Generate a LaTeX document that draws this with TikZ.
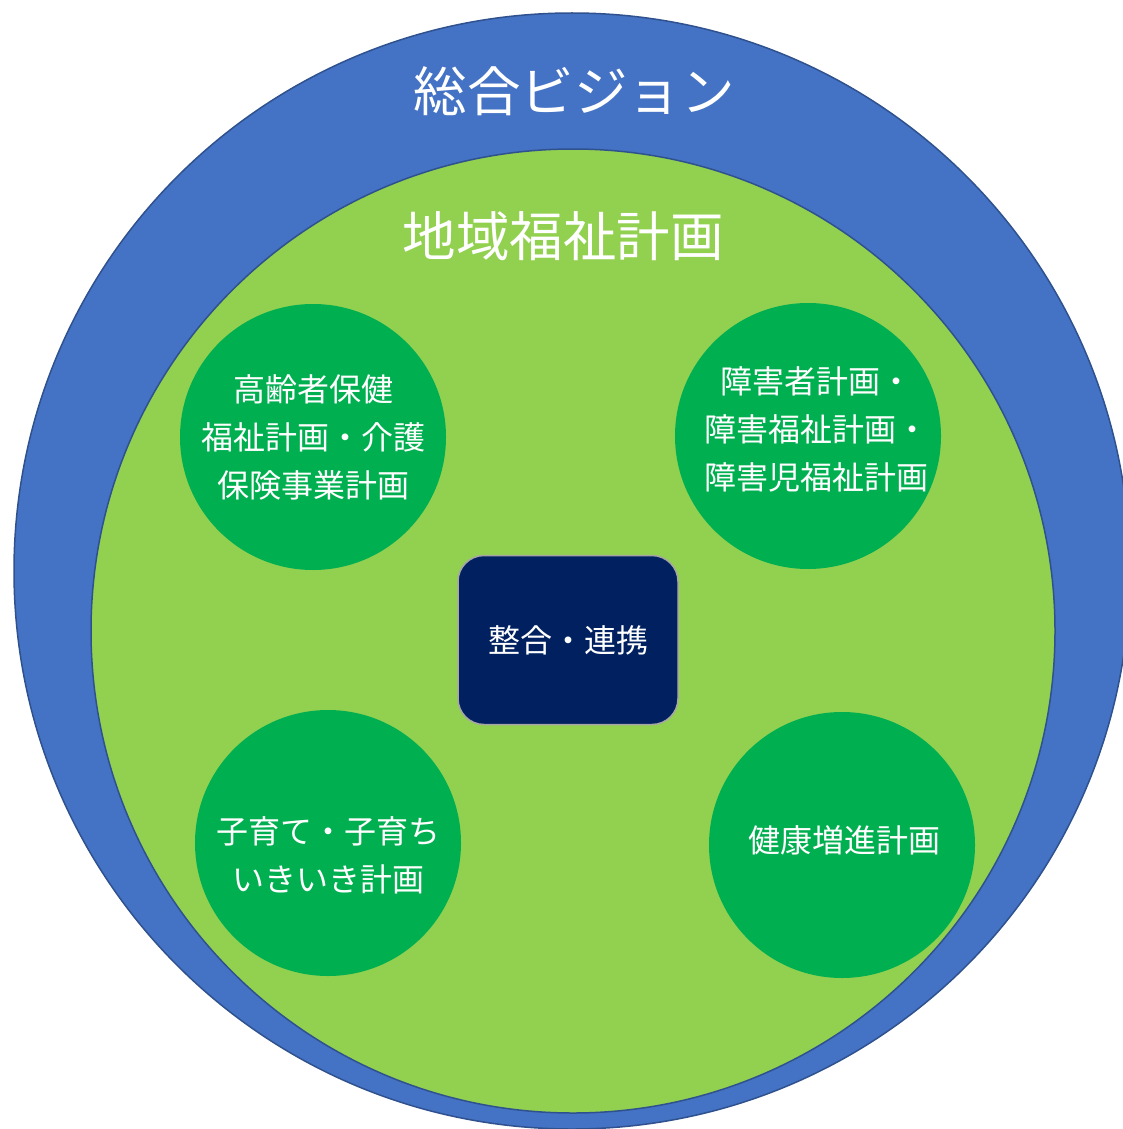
\documentclass[tikz,border=0pt]{standalone}
\usepackage{fontspec}
\newfontfamily\cjk{Noto Sans CJK JP}
\definecolor{visionblue}{HTML}{4472C4}
\definecolor{ringline}{HTML}{2F528F}
\definecolor{planlime}{HTML}{92D050}
\definecolor{plangreen}{HTML}{00B050}
\definecolor{hubnavy}{HTML}{002060}
\definecolor{hubedge}{HTML}{A6A6A6}
\tikzset{
  bigtitle/.style={text=white, font=\cjk\fontsize{53.5}{60}\selectfont, inner sep=0},
  bubbletext/.style={text=white, align=center, font=\cjk\fontsize{32}{48}\selectfont, inner sep=0},
  planbubble/.style={circle, fill=plangreen, draw=none, minimum size=266pt, inner sep=0},
  hubbox/.style={rectangle, rounded corners=26pt, fill=hubnavy, draw=hubedge, line width=1.5pt,
    minimum width=220pt, minimum height=169pt, inner sep=0, text=white,
    font=\cjk\fontsize{32}{40}\selectfont}
}
\begin{document}
\begin{tikzpicture}[x=1pt,y=-1pt]
\useasboundingbox (0,0) rectangle (1123,1129);
\node[circle, fill=visionblue, draw=ringline, line width=1.5pt, minimum size=1116pt, inner sep=0] (vision) at (572,571) {};
\node[circle, fill=planlime, draw=ringline, line width=1.5pt, minimum size=964pt, inner sep=0] (welfare) at (573,631) {};
\node[bigtitle] (visionlabel) at (574,91) {総合ビジョン};
\node[bigtitle] (welfarelabel) at (563,236) {地域福祉計画};
\node[planbubble] (elderly) at (313,437) {};
\node[bubbletext] (elderlytext) at (313,437) {高齢者保健\\福祉計画・介護\\保険事業計画};
\node[planbubble] (disability) at (808,436) {};
\node[bubbletext] (disabilitytext) at (816,429) {障害者計画・\\障害福祉計画・\\障害児福祉計画};
\node[planbubble] (children) at (328,843) {};
\node[bubbletext] (childrentext) at (328,855) {子育て・子育ち\\いきいき計画};
\node[planbubble] (health) at (842,845) {};
\node[bubbletext] (healthtext) at (844,840) {健康増進計画};
\node[hubbox] (hub) at (568,640) {整合・連携};
\end{tikzpicture}
\end{document}
